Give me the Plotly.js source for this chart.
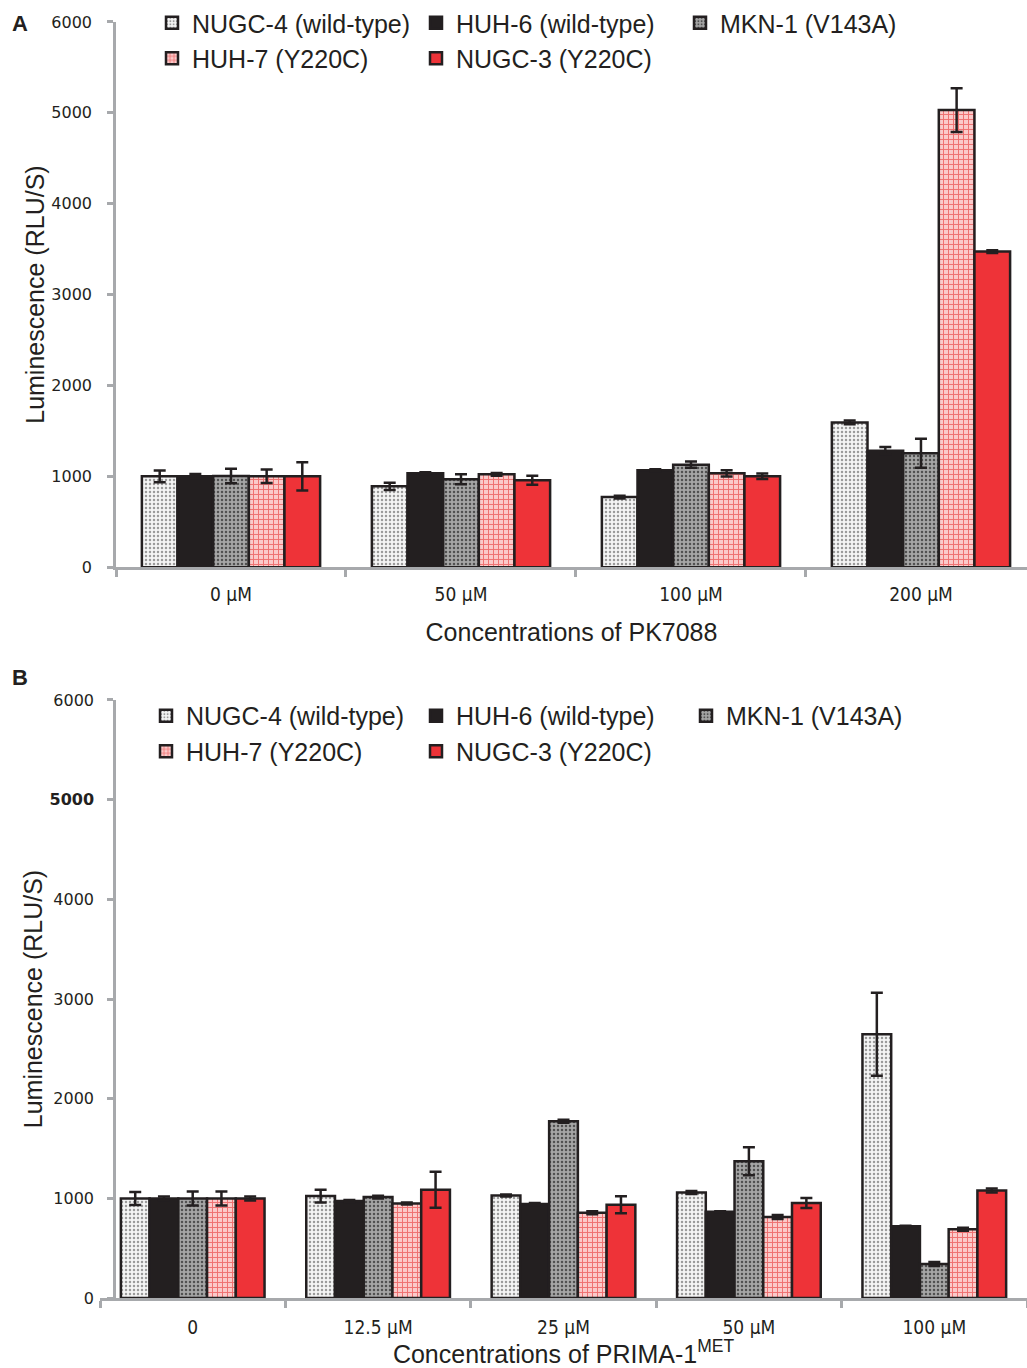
<!DOCTYPE html>
<html>
<head>
<meta charset="utf-8">
<script src="https://cdn.plot.ly/plotly-3.0.1.min.js"></script>
<style>html,body{margin:0;padding:0;background:#fff;overflow:hidden}</style>
</head>
<body>
<div id="chart" style="width:1027px;height:1368px"></div>
<script>
// ---------- Data ----------
const seriesNames = ['NUGC-4 (wild-type)', 'HUH-6 (wild-type)', 'MKN-1 (V143A)', 'HUH-7 (Y220C)', 'NUGC-3 (Y220C)'];

// Panel A: PK7088
const catsA = ['0 µM', '50 µM', '100 µM', '200 µM'];
const nugc4A = [1000, 890, 772, 1593];
const nugc4A_err = [65, 40, 15, 20];
const huh6A = [1000, 1033, 1066, 1282];
const huh6A_err = [25, 12, 12, 40];
const mkn1A = [1003, 967, 1128, 1253];
const mkn1A_err = [80, 55, 35, 160];
const huh7A = [1000, 1022, 1033, 5030];
const huh7A_err = [75, 15, 35, 240];
const nugc3A = [1000, 956, 1000, 3473];
const nugc3A_err = [155, 50, 30, 15];

// Panel B: PRIMA-1MET
const catsB = ['0', '12.5 µM', '25 µM', '50 µM', '100 µM'];
const nugc4B = [1000, 1023, 1030, 1060, 2647];
const nugc4B_err = [65, 65, 10, 15, 417];
const huh6B = [1000, 973, 943, 867, 720];
const huh6B_err = [20, 10, 10, 5, 5];
const mkn1B = [1000, 1013, 1773, 1373, 343];
const mkn1B_err = [70, 15, 15, 140, 20];
const huh7B = [1000, 950, 857, 813, 690];
const huh7B_err = [70, 10, 15, 20, 15];
const nugc3B = [1000, 1087, 937, 953, 1080];
const nugc3B_err = [20, 180, 85, 50, 20];

const yTickVals = [0, 1000, 2000, 3000, 4000, 5000, 6000];
const yTickTextA = ['0', '1000', '2000', '3000', '4000', '5000', '6000'];
const yTickTextB = ['0', '1000', '2000', '3000', '4000', '<b>5000</b>', '6000'];

// ---------- Styles ----------
const DARK = '#231f20';
const AXIS = '#a7a9ac';
const styles = [
  {color: '#f2f2f2', pattern: {shape: '.', fgcolor: '#9a9a9a', bgcolor: '#f5f5f5', size: 4, solidity: 0.3}},
  {color: DARK},
  {color: '#9a9a9a', pattern: {shape: '.', fgcolor: '#505050', bgcolor: '#a6a6a6', size: 4, solidity: 0.3}},
  {color: '#f7a8a8', pattern: {shape: '+', fgcolor: '#ee6f6f', bgcolor: '#fbcaca', size: 5, solidity: 0.35}},
  {color: '#ee3338'}
];

function makeTrace(i, cats, vals, errs, xa, ya, legendId) {
  const m = {color: styles[i].color, line: {color: DARK, width: 2.5}};
  if (styles[i].pattern) m.pattern = styles[i].pattern;
  return {
    type: 'bar', name: seriesNames[i], x: cats, y: vals,
    xaxis: xa, yaxis: ya, legend: legendId,
    marker: m,
    error_y: {type: 'data', array: errs, visible: true, color: DARK, thickness: 2.5, width: 6},
    hoverinfo: 'x+y+name'
  };
}

const dataA = [[nugc4A, nugc4A_err], [huh6A, huh6A_err], [mkn1A, mkn1A_err], [huh7A, huh7A_err], [nugc3A, nugc3A_err]];
const dataB = [[nugc4B, nugc4B_err], [huh6B, huh6B_err], [mkn1B, mkn1B_err], [huh7B, huh7B_err], [nugc3B, nugc3B_err]];

const traces = [];
dataA.forEach((d, i) => traces.push(makeTrace(i, catsA, d[0], d[1], 'x', 'y', 'legend')));
dataB.forEach((d, i) => traces.push(makeTrace(i, catsB, d[0], d[1], 'x2', 'y2', 'legend2')));

const W = 1027, H = 1368;
const tickFontY = {family: 'DejaVu Sans, Verdana, sans-serif', size: 16, color: DARK};
const tickFontX = {family: 'DejaVu Sans Condensed, Liberation Sans Narrow, sans-serif', size: 19, color: DARK};
const titleFont = {family: 'Liberation Sans, Arial, sans-serif', size: 25, color: DARK};
const legendFont = {family: 'Liberation Sans, Arial, sans-serif', size: 25, color: DARK};

function yAxis(domain, ticktext, standoff) {
  return {
    domain: domain, range: [0, 6000], tickvals: yTickVals, ticktext: ticktext,
    showgrid: false, zeroline: false, showline: true, linecolor: AXIS, linewidth: 2.5,
    ticks: 'outside', ticklen: 6, tickwidth: 2.5, tickcolor: AXIS,
    tickfont: tickFontY, ticklabelstandoff: standoff,
    title: {text: 'Luminescence (RLU/S)', font: titleFont, standoff: 0},
    fixedrange: true
  };
}
function xAxis(domain, range, titleText, standoff, anchor, labelStandoff) {
  return {
    domain: domain, type: 'category', range: range, anchor: anchor,
    tickson: 'boundaries', ticks: 'outside', ticklen: 7, tickwidth: 2.5, tickcolor: AXIS,
    showline: true, linecolor: AXIS, linewidth: 2.5, showgrid: false, zeroline: false,
    tickfont: tickFontX, ticklabelstandoff: labelStandoff,
    title: {text: titleText, font: titleFont, standoff: standoff},
    fixedrange: true
  };
}

const layout = {
  width: W, height: H,
  margin: {l: 0, r: 0, t: 0, b: 0},
  paper_bgcolor: '#ffffff', plot_bgcolor: '#ffffff',
  barmode: 'group', bargap: 0.225, bargroupgap: 0,
  showlegend: true,
  xaxis: xAxis([116 / W, 1], [-0.5, 3.461], 'Concentrations of PK7088', 20, 'y', 8),
  yaxis: yAxis([1 - 566 / H, 1 - 20 / H], yTickTextA, 12),
  xaxis2: xAxis([100 / W, 1], [-0.5, 4.5], 'Concentrations of PRIMA-1<sup>MET</sup>', 8, 'y2', 10),
  yaxis2: yAxis([1 - 1298 / H, 1 - 699 / H], yTickTextB, 10),
  legend: {
    orientation: 'h', x: 152 / W, xanchor: 'left', y: 1 + 2 / H, yanchor: 'top',
    entrywidth: 219, font: legendFont, bgcolor: 'rgba(0,0,0,0)', borderwidth: 0,
    traceorder: 'normal', itemclick: false, itemdoubleclick: false
  },
  legend2: {
    orientation: 'h', x: 146 / W, xanchor: 'left', y: 1 - 692 / H, yanchor: 'top',
    entrywidth: 225, font: legendFont, bgcolor: 'rgba(0,0,0,0)', borderwidth: 0,
    traceorder: 'normal', itemclick: false, itemdoubleclick: false
  },
  annotations: [
    {text: '<b>A</b>', xref: 'paper', yref: 'paper', x: 10 / W, y: 1 - 22 / H, xanchor: 'left', yanchor: 'middle',
     showarrow: false, font: {family: 'Liberation Sans, Arial, sans-serif', size: 22, color: DARK}},
    {text: '<b>B</b>', xref: 'paper', yref: 'paper', x: 10 / W, y: 1 - 676 / H, xanchor: 'left', yanchor: 'middle',
     showarrow: false, font: {family: 'Liberation Sans, Arial, sans-serif', size: 22, color: DARK}}
  ]
};

Plotly.newPlot('chart', traces, layout, {displayModeBar: false, staticPlot: false});
</script>
</body>
</html>
